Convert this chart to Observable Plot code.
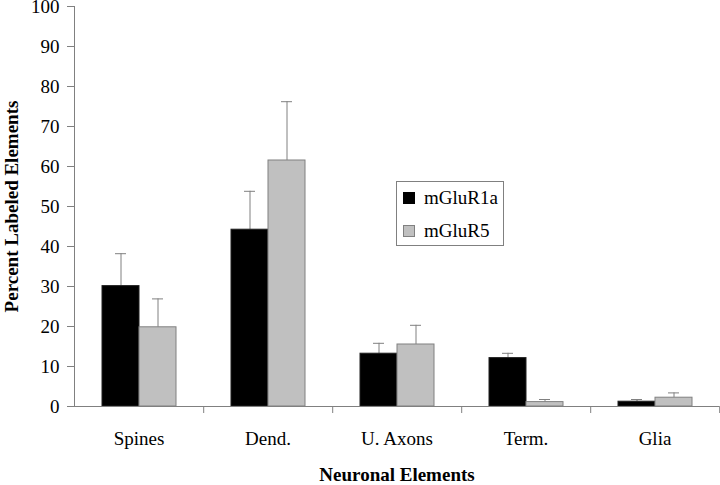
<!DOCTYPE html>
<html><head>
<meta charset="utf-8">
<script src="https://cdn.jsdelivr.net/npm/d3@7"></script>
<script src="https://cdn.jsdelivr.net/npm/@observablehq/plot@0.6"></script>
<style>
body{margin:0;background:#fff;}
#wrap{position:relative;width:720px;height:485px;}
svg text{font-family:"Liberation Serif","Times New Roman",Times,serif !important;}
.legend{position:absolute;left:396px;top:181px;width:106px;height:63px;border:1px solid #808080;background:#fff;font-family:"Liberation Serif","Times New Roman",Times,serif;font-size:19px;color:#000;}
.legend .row{position:absolute;left:6px;height:20px;line-height:20px;white-space:nowrap;}
.legend .sw{display:inline-block;width:10px;height:10px;vertical-align:middle;margin-right:9px;position:relative;top:-2px;}
</style></head><body><div id="wrap"></div>
<script>
const categories = ["Spines", "Dend.", "U. Axons", "Term.", "Glia"];
const series = ["mGluR1a", "mGluR5"];
const mGluR1a = [30.1, 44.2, 13.2, 12.1, 1.2];
const mGluR1aErr = [8.1, 9.6, 2.6, 1.2, 0.55];
const mGluR5 = [19.8, 61.5, 15.5, 1.1, 2.2];
const mGluR5Err = [7.1, 14.7, 4.8, 0.65, 1.2];
const yTicks = [0, 10, 20, 30, 40, 50, 60, 70, 80, 90, 100];
const colors = ["#000000", "#c0c0c0"];
const strokes = ["#202020", "#808080"];
const yTitle = "Percent Labeled Elements";
const xTitle = "Neuronal Elements";

const data = categories.flatMap((c, i) => [
  {cat: c, s: series[0], v: mGluR1a[i], e: mGluR1aErr[i]},
  {cat: c, s: series[1], v: mGluR5[i], e: mGluR5Err[i]}
]);

const W = 720, H = 485, mL = 73, mR = 0, mT = 6, mB = 79;
const halfStep = (W - mL - mR) / categories.length / 2;
const axisColor = "#808080";
const serif = '"Liberation Serif", "Times New Roman", Times, serif';

const plot = Plot.plot({
  width: W, height: H,
  marginLeft: mL, marginRight: mR, marginTop: mT, marginBottom: mB,
  style: {fontFamily: serif, fontSize: "19px", color: "#000", background: "#fff", overflow: "visible"},
  fx: {domain: categories, padding: 0, label: null},
  x: {domain: series, paddingInner: 0, paddingOuter: 0.725, axis: null},
  y: {domain: [0, 100]},
  color: {domain: series, range: colors},
  marks: [
    Plot.axisY({ticks: yTicks, tickSize: 7, tickPadding: 8, stroke: axisColor, fill: "#000", fontSize: 19,
      label: yTitle, labelAnchor: "center", labelArrow: false}),
    Plot.ruleX(data, {fx: "cat", x: "s", y1: "v", y2: d => d.v + d.e, stroke: axisColor}),
    Plot.tickY(data, {fx: "cat", x: "s", y: d => d.v + d.e, stroke: axisColor, insetLeft: 13, insetRight: 13}),
    Plot.barY(data, {fx: "cat", x: "s", y: "v", fill: "s", stroke: d => strokes[series.indexOf(d.s)], strokeWidth: 1}),
    Plot.ruleY([0], {stroke: axisColor}),
    Plot.axisFx({anchor: "bottom", tickSize: 0, tickPadding: 25, fill: "#000", fontSize: 19,
      label: xTitle, labelAnchor: "center", labelArrow: false, labelOffset: 74}),
    Plot.axisFx({anchor: "bottom", tickSize: 7, tickFormat: () => "", label: null, stroke: axisColor, dx: halfStep})
  ]
});

// y-axis domain line at the left edge of the first facet band
const fxS = plot.scale("fx"), yS = plot.scale("y");
const x0 = fxS.apply(categories[0]);
d3.select(plot).append("line")
  .attr("x1", x0 + 0.5).attr("x2", x0 + 0.5)
  .attr("y1", yS.apply(100)).attr("y2", yS.apply(0))
  .attr("stroke", axisColor);
d3.select(plot).attr("font-family", serif).attr("font-size", 19);
d3.select(plot).selectAll("text").style("font-size", "19px");
d3.select(plot).selectAll('g[aria-label$="axis label"]').attr("font-weight", "bold")
  .selectAll("text").style("font-weight", "bold");

const wrap = document.getElementById("wrap");
wrap.appendChild(plot);
const leg = document.createElement("div");
leg.className = "legend";
series.forEach((s, i) => {
  const r = document.createElement("div");
  r.className = "row";
  r.style.top = (6 + i * 33) + "px";
  r.innerHTML = `<span class="sw" style="background:${colors[i]};border:1px solid ${i ? "#808080" : "#000"}"></span>${s}`;
  leg.appendChild(r);
});
wrap.appendChild(leg);
</script>
</body></html>
